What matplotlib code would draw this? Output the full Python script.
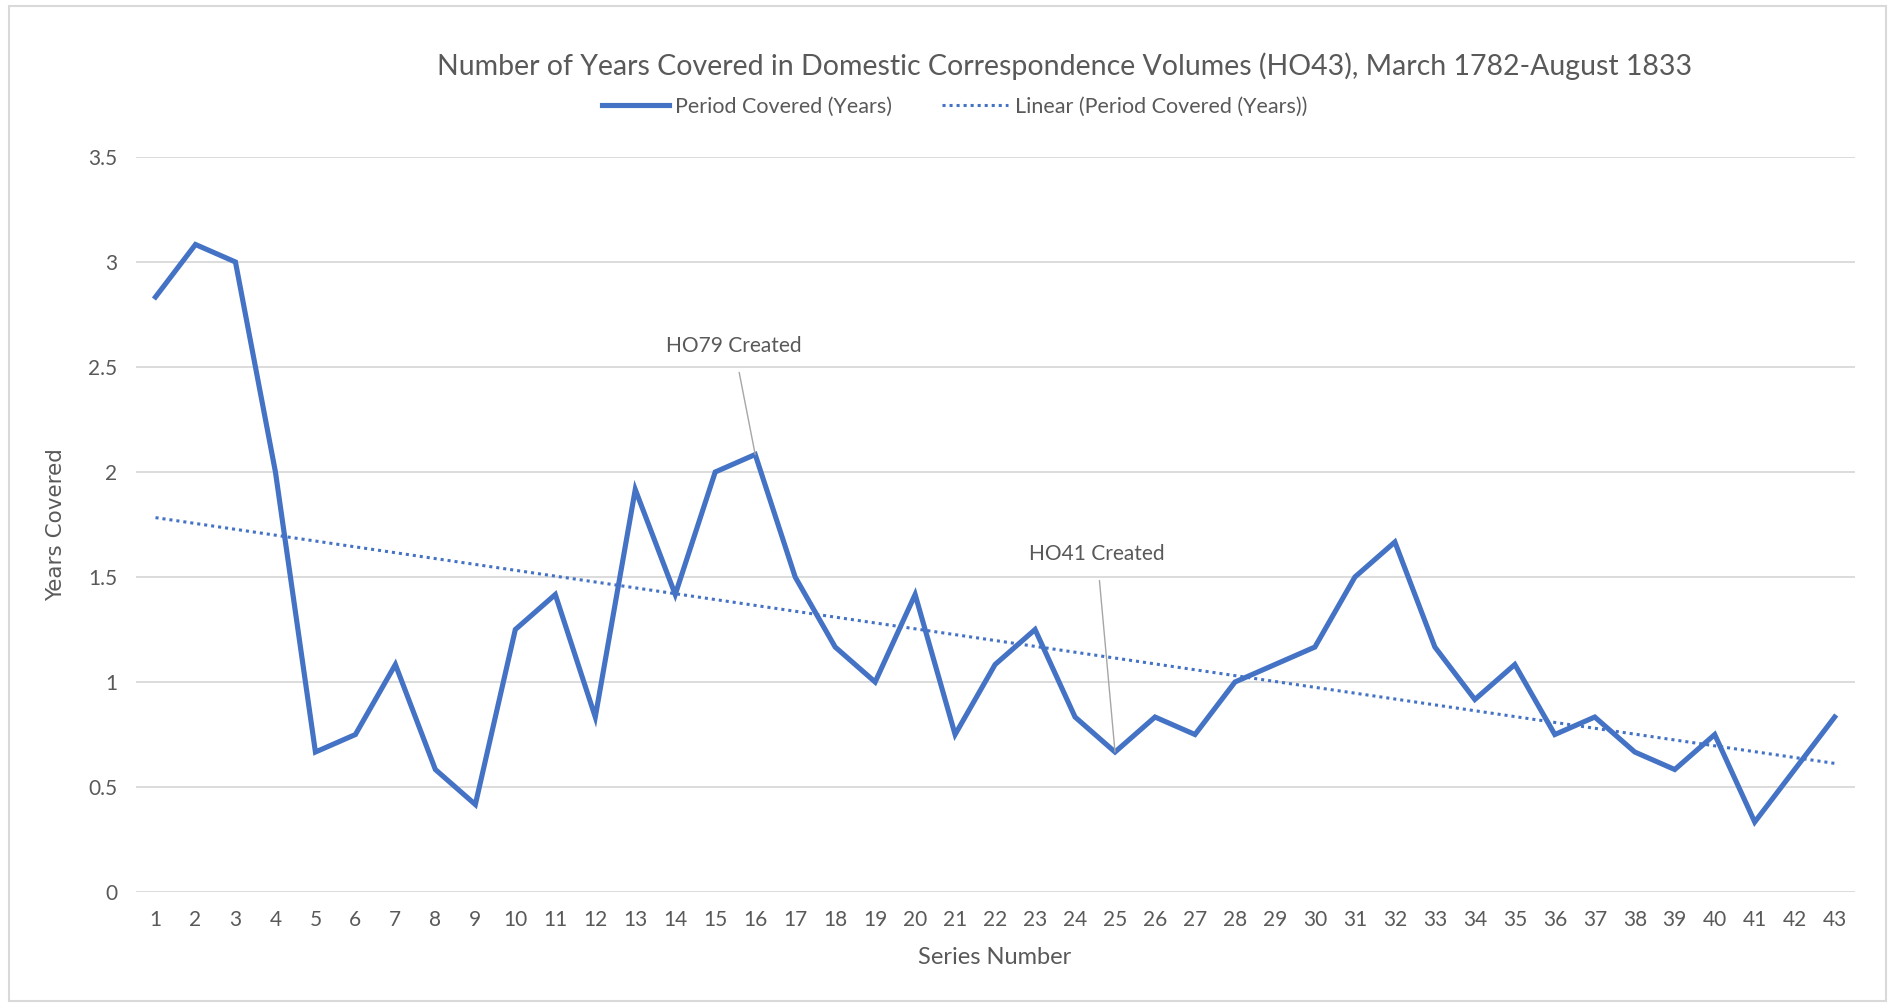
import numpy as np
import matplotlib
matplotlib.use('Agg')
import matplotlib.pyplot as plt
from matplotlib.patches import Rectangle

# Series number and years covered per volume (months / 12)
series = np.arange(1, 44)
months = [34, 37, 36, 24, 8, 9, 13, 7, 5, 15, 17, 10, 23, 17, 24, 25, 18, 14, 12, 17,
          9, 13, 15, 10, 8, 10, 9, 12, 13, 14, 18, 20, 14, 11, 13, 9, 10, 8, 7, 9,
          4, 7, 10]
years = np.array(months) / 12.0

notes = ['HO79 Created', 'HO41 Created']
note_series = [16, 25]

blue = '#4472C4'
grey_txt = '#595959'
font = 'Lato'

fig = plt.figure(figsize=(18.9, 10.05), dpi=100)
fig.patches.append(Rectangle((0.005, 0.004), 0.993, 0.99, transform=fig.transFigure,
                             fill=False, edgecolor='#d9d9d9', lw=1.5))
ax = fig.add_axes([0.0717, 0.1124, 0.9096, 0.7314])

ax.plot(series, years, color=blue, lw=3.7, solid_joinstyle='miter',
        label='Period Covered (Years)')

# linear trendline
m, b = np.polyfit(series, years, 1)
ax.plot(series, m * series + b, color=blue, lw=2.2, linestyle=(0, (1, 1.3)),
        dash_capstyle='butt', label='Linear (Period Covered (Years))')

ax.set_xlim(0.5, 43.5)
ax.set_ylim(0, 3.5)
ax.set_yticks(np.arange(0, 3.51, 0.5))
ax.set_yticklabels(['0', '0.5', '1', '1.5', '2', '2.5', '3', '3.5'])
ax.set_xticks(series)
ax.grid(axis='y', color='#d9d9d9', lw=1.3)
ax.set_axisbelow(True)
for s in ax.spines.values():
    s.set_visible(False)
ax.tick_params(length=0, labelsize=15, labelcolor=grey_txt, pad=13)
for lab in ax.get_xticklabels() + ax.get_yticklabels():
    lab.set_fontfamily(font)

ax.set_xlabel('Series Number', fontsize=17, color=grey_txt, family=font, labelpad=12)
ax.set_ylabel('Years Covered', fontsize=15.5, color=grey_txt, family='DejaVu Sans', labelpad=16)

# annotations
text_pos = [(15.47, 2.60), (24.55, 1.61)]
for txt, s, pos in zip(notes, note_series, text_pos):
    ax.annotate(txt, xy=(s, years[s - 1]), xytext=pos, ha='center', va='center',
                fontsize=15, color=grey_txt, family=font,
                arrowprops=dict(arrowstyle='-', color='#a6a6a6', lw=1,
                                shrinkA=10, shrinkB=0))

fig.text(0.563, 0.934, 'Number of Years Covered in Domestic Correspondence Volumes (HO43), March 1782-August 1833',
         ha='center', va='center', fontsize=20.5, color=grey_txt, family=font)

leg = ax.legend(loc='center', bbox_to_anchor=(0.505, 0.894), bbox_transform=fig.transFigure,
                ncol=2, frameon=False, prop={'family': font, 'size': 15.5},
                handlelength=3.1, columnspacing=2.3, handletextpad=0.3)
for t in leg.get_texts():
    t.set_color(grey_txt)

fig.savefig('out.png', dpi=100)
